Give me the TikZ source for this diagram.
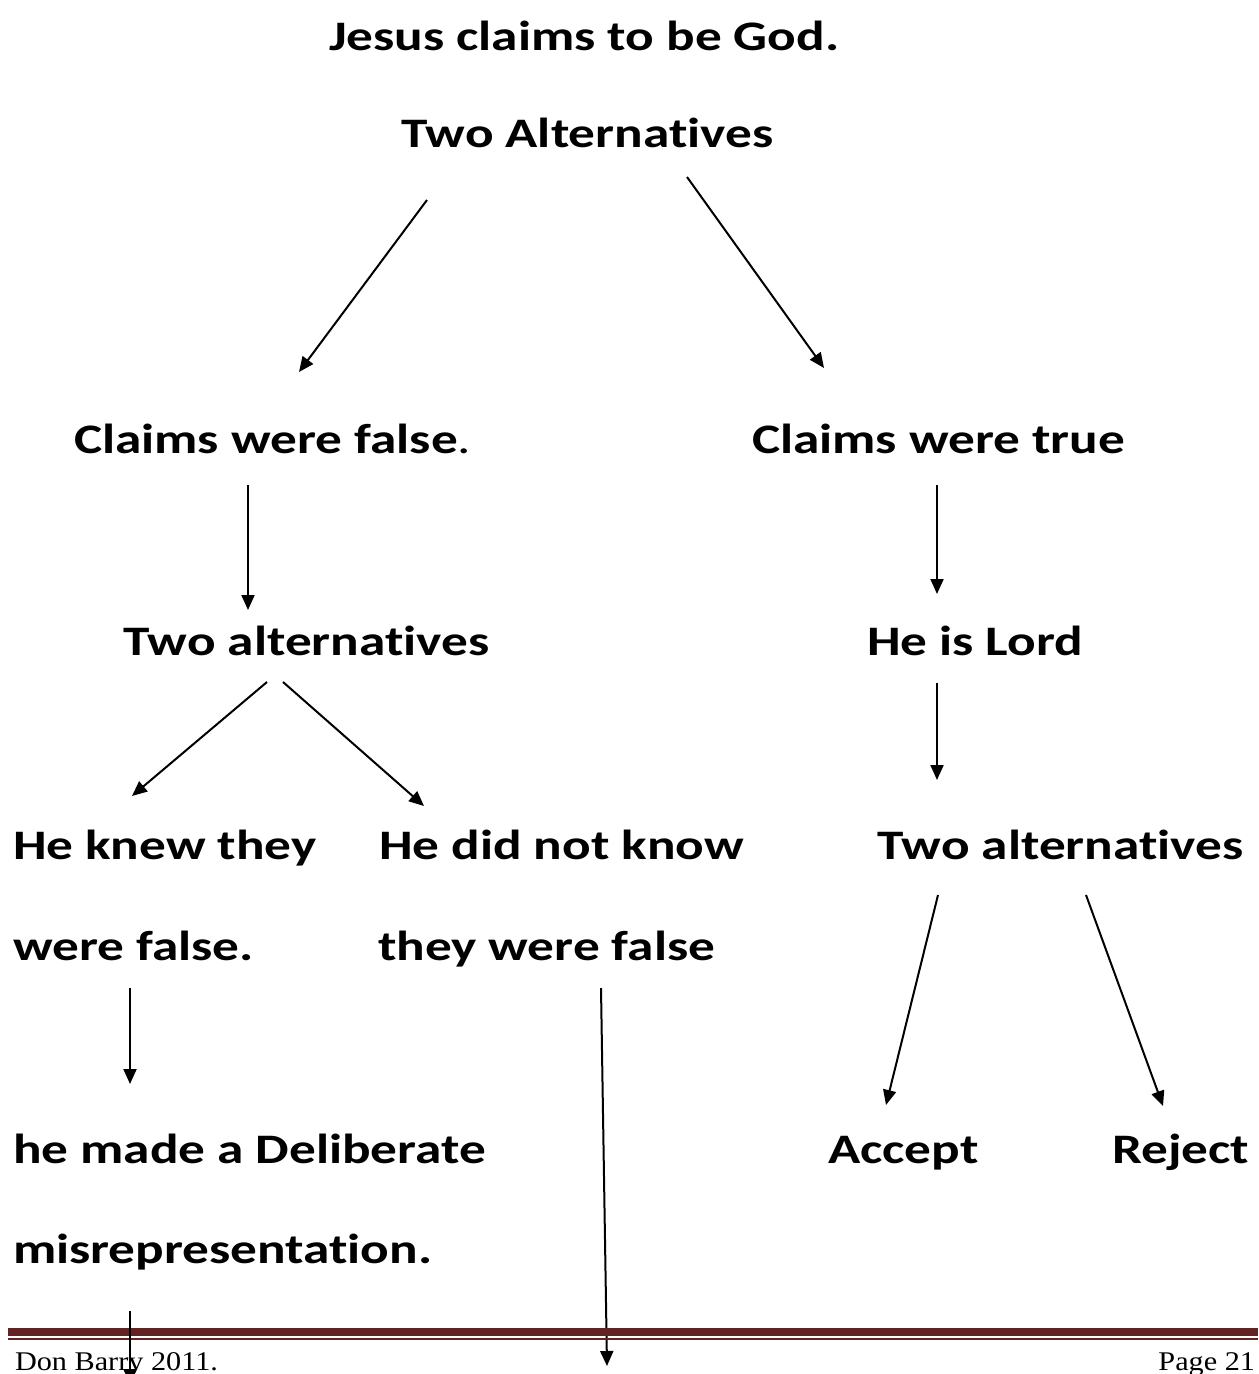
\documentclass[tikz,border=0pt]{standalone}
\usepackage{fontspec}
\setmainfont{Carlito}[FakeStretch=1.268, Ligatures=NoCommon]
\newfontfamily\footfont{Liberation Serif}[FakeStretch=1.12]
\usetikzlibrary{arrows.meta}
\definecolor{footred}{RGB}{98,36,35}
\tikzset{
flow/.style={
    x=0.5pt,
    y=-0.5pt,
    line width=1pt
},
txt/.style={
    anchor=base west,
    inner sep=0pt,
    font=\fontsize{21}{25}\selectfont\bfseries
},
foot/.style={
    anchor=base west,
    inner sep=0pt,
    font=\fontsize{13.5}{16}\selectfont\footfont
},
sees/.style={
    -{Triangle[length=7.5pt,width=6.5pt]}
}}

\begin{document}
\begin{tikzpicture}[flow]
\useasboundingbox (0,0) rectangle (1258,1374);
% texts
\node[txt] (god)    at (328,51)   {Jesus claims to be God.};
\node[txt] (alt)    at (400,148)  {Two Alternatives};
\node[txt] (false)  at (73,453)   {Claims were false\textmd{.}};
\node[txt] (true)   at (751,453)  {Claims were true};
\node[txt] (altf)   at (122,655)  {Two alternatives};
\node[txt] (lord)   at (866,655)  {He is Lord};
\node[txt] (knew)   at (12,859)   {He knew they};
\node[txt] (knew2)  at (12,960)   {were false.};
\node[txt] (dnk)    at (378,859)  {He did not know};
\node[txt] (dnk2)   at (377,960)  {they were false};
\node[txt] (altt)   at (876,859)  {Two alternatives};
\node[txt] (delib)  at (12,1163)  {he made a Deliberate};
\node[txt] (delib2) at (12,1263)  {misrepresentation.};
\node[txt] (acc)    at (827,1163) {Accept};
\node[txt] (rej)    at (1111,1163) {Reject};
% arrow ends
\coordinate (a1) at (427,200);  \coordinate (b1) at (299,372);
\coordinate (a2) at (687,177);  \coordinate (b2) at (824,368);
\coordinate (a3) at (248,485);  \coordinate (b3) at (248,610);
\coordinate (a4) at (937,485);  \coordinate (b4) at (937,594);
\coordinate (a5) at (267,682);  \coordinate (b5) at (132,796);
\coordinate (a6) at (283,682);  \coordinate (b6) at (424,806);
\coordinate (a7) at (937,683);  \coordinate (b7) at (937,780);
\coordinate (a8) at (130,988);  \coordinate (b8) at (130,1084);
\coordinate (a9) at (938,895);  \coordinate (b9) at (886,1105);
\coordinate (a10) at (1086,895); \coordinate (b10) at (1163,1106);
\coordinate (a11) at (601,988); \coordinate (b11) at (607,1366);
\coordinate (a12) at (130,1311); \coordinate (b12) at (130,1384);
\foreach \i in {1,...,11}
    \draw[sees] (a\i) -- (b\i);
% footer
\draw[footred, line width=3.6pt] (8,1332) -- (1258,1332);
\draw[footred, line width=0.9pt] (8,1339) -- (1258,1339);
\node[foot] (name) at (14,1370) {Don Barry 2011.};
\node[foot, anchor=base east] (page) at (1256,1370) {Page 21};
\draw[sees] (a12) -- (b12);
\end{tikzpicture}
\end{document}
